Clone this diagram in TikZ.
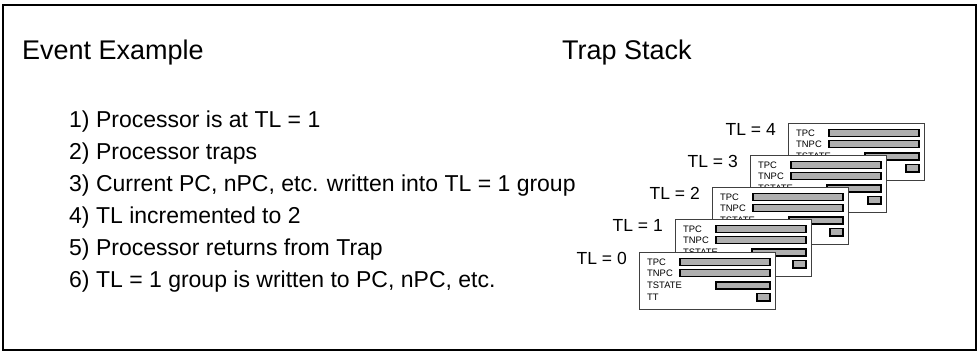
\documentclass[tikz,border=0pt]{standalone}
\usepackage{fontspec}
\setmainfont{Liberation Sans}
\usepackage{tikz}
\definecolor{regfill}{RGB}{175,175,175}
\tikzset{
  cardbox/.style={draw=black!75, fill=white, line width=0.8pt, minimum width=136pt, minimum height=57pt, inner sep=0pt, anchor=north west},
  regbar/.style={draw=black, fill=regfill, line width=1.3pt},
  reglabel/.style={font=\fontsize{9.4}{10}\selectfont, anchor=west, inner sep=0pt},
  tllabel/.style={font=\fontsize{17.5}{19}\selectfont, anchor=east, inner sep=0pt},
  itemtext/.style={font=\fontsize{23}{25}\selectfont, anchor=base west, inner sep=0pt},
  titletext/.style={font=\fontsize{27}{29}\selectfont, anchor=base west, inner sep=0pt}
}

\begin{document}
\begin{tikzpicture}[x=1pt, y=-1pt]
    \useasboundingbox (0,0) rectangle (978,355);
    \draw[line width=2pt] (3,5) rectangle (976,350);
    \node[titletext] (evttitle) at (22,60) {Event Example};
    \node[titletext] (stacktitle) at (562,60) {Trap Stack};
    % event steps
    \foreach \txt [count=\i] in {{1) Processor is at TL = 1}, {2) Processor traps},
        {3) Current PC, nPC, etc. written into TL = 1 group}, {4) TL incremented to 2},
        {5) Processor returns from Trap}, {6) TL = 1 group is written to PC, nPC, etc.}}
      \node[itemtext] (step\i) at (69,96+32*\i) {\txt};
    % trap stack, back to front
    \foreach \lvl/\cx/\cy in {4/788/123, 3/750/155, 2/712/187, 1/675/219, 0/639/252} {
      \node[cardbox] (card\lvl) at (\cx,\cy) {};
      \node[tllabel] (tl\lvl) at ([xshift=-12pt,yshift=-6pt]card\lvl.north west) {TL = \lvl};
      \begin{scope}[shift={(card\lvl.north west)}]
        \node[reglabel] (tpc\lvl) at (8,10) {TPC};
        \node[reglabel] (tnpc\lvl) at (8,21) {TNPC};
        \node[reglabel] (tstate\lvl) at (8,33) {TSTATE};
        \node[reglabel] (tt\lvl) at (8,45) {TT};
        \draw[regbar] (41,6.5) rectangle (131,13.5);
        \draw[regbar] (41,17.5) rectangle (131,24.5);
        \draw[regbar] (77,30) rectangle (131,37);
        \draw[regbar] (118,41.5) rectangle (131,49);
      \end{scope}
    }
  \end{tikzpicture}
\end{document}
